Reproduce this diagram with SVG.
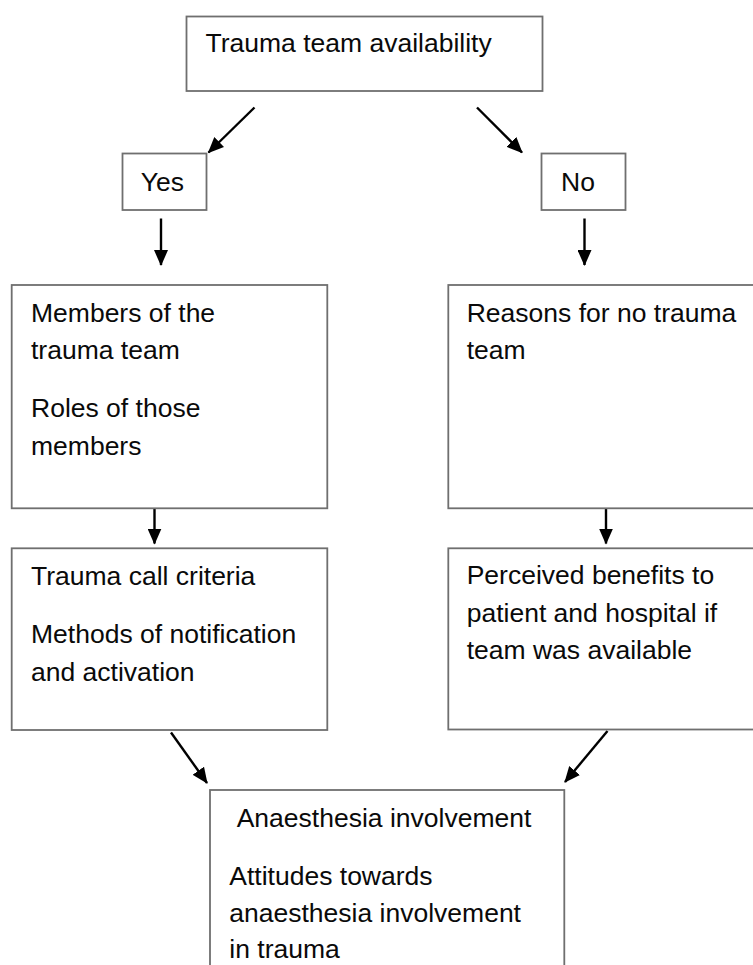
<svg xmlns="http://www.w3.org/2000/svg" width="753" height="965" viewBox="0 0 753 965">
  <style>
    .box { fill: #ffffff; stroke: #6f6f6f; stroke-width: 1.8; }
    .lbl { font-family: "Liberation Sans", Arial, sans-serif; font-size: 26.5px; fill: #0a0a0a; }
    .arr { stroke: #000000; stroke-width: 2.4; fill: none; marker-end: url(#head); }
  </style>
  <defs>
    <marker id="head" viewBox="0 0 16 14" refX="15" refY="7" markerWidth="16" markerHeight="14" markerUnits="userSpaceOnUse" orient="auto">
      <path d="M0,0 L16,7 L0,14 z" fill="#000000"/>
    </marker>
  </defs>
  <rect width="753" height="965" fill="#ffffff"/>

  <g id="connectors">
    <line class="arr" x1="254.5" y1="107.5" x2="208.5" y2="152.5"/>
    <line class="arr" x1="477" y1="107.5" x2="522" y2="152.5"/>
    <line class="arr" x1="161" y1="218.5" x2="161" y2="265"/>
    <line class="arr" x1="584.5" y1="218.5" x2="584.5" y2="265"/>
    <line class="arr" x1="154.5" y1="509" x2="154.5" y2="543.5"/>
    <line class="arr" x1="606" y1="509" x2="606" y2="543.5"/>
    <line class="arr" x1="171" y1="732.5" x2="207" y2="783"/>
    <line class="arr" x1="607.5" y1="731" x2="565" y2="782"/>
  </g>

  <g id="n-availability">
    <rect class="box" x="186.5" y="16.5" width="356" height="74.5"/>
    <text class="lbl" x="205.5" y="52.3">Trauma team availability</text>
  </g>

  <g id="n-yes">
    <rect class="box" x="122.5" y="153.5" width="84" height="56.5"/>
    <text class="lbl" x="140.7" y="190.7">Yes</text>
  </g>

  <g id="n-no">
    <rect class="box" x="541.5" y="153.5" width="84" height="56.5"/>
    <text class="lbl" x="561" y="190.7">No</text>
  </g>

  <g id="n-members">
    <rect class="box" x="11.7" y="285" width="315.6" height="223.3"/>
    <text class="lbl" x="31" y="321.7">Members of the</text>
    <text class="lbl" x="31" y="359.3">trauma team</text>
    <text class="lbl" x="31" y="417.3">Roles of those</text>
    <text class="lbl" x="31" y="455">members</text>
  </g>

  <g id="n-reasons">
    <rect class="box" x="448.3" y="285" width="320" height="223.3"/>
    <text class="lbl" x="466.7" y="321.7">Reasons for no trauma</text>
    <text class="lbl" x="466.7" y="359.3">team</text>
  </g>

  <g id="n-criteria">
    <rect class="box" x="11.7" y="548.3" width="315.6" height="181.7"/>
    <text class="lbl" x="31" y="585">Trauma call criteria</text>
    <text class="lbl" x="31" y="643.3">Methods of notification</text>
    <text class="lbl" x="31" y="681">and activation</text>
  </g>

  <g id="n-benefits">
    <rect class="box" x="448.3" y="548.3" width="320" height="181.2"/>
    <text class="lbl" x="466.7" y="584">Perceived benefits to</text>
    <text class="lbl" x="466.7" y="621.5">patient and hospital if</text>
    <text class="lbl" x="466.7" y="659">team was available</text>
  </g>

  <g id="n-anaesthesia">
    <rect class="box" x="210" y="790" width="354.3" height="200"/>
    <text class="lbl" x="236.7" y="826.7">Anaesthesia involvement</text>
    <text class="lbl" x="229.3" y="885">Attitudes towards</text>
    <text class="lbl" x="229.3" y="921.5">anaesthesia involvement</text>
    <text class="lbl" x="229.3" y="958">in trauma</text>
  </g>
</svg>
